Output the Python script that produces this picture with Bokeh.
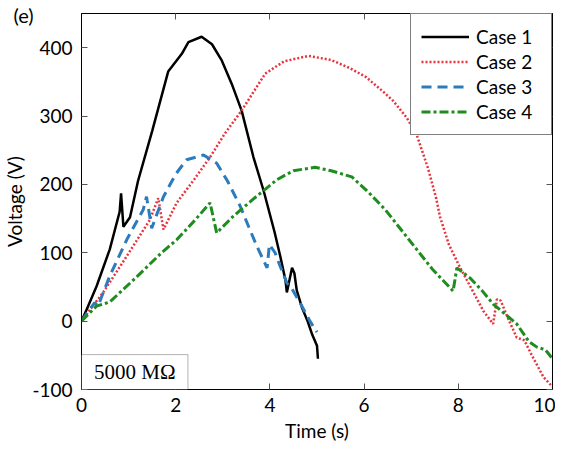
from bokeh.plotting import figure
from bokeh.models import (Range1d, LinearAxis, FixedTicker, Legend, LegendItem,
                          Label, BoxAnnotation, Title, CustomLabelingPolicy)
from bokeh.embed import file_html
from bokeh.resources import INLINE

# ---- data ----
case1_t = [0, 0.11, 0.32, 0.6, 0.81, 0.84, 0.89, 1.03, 1.2, 1.5, 1.84, 2.13, 2.27,
           2.55, 2.77, 2.98, 3.19, 3.4, 3.65, 3.87, 4.1, 4.22, 4.33, 4.36, 4.47,
           4.52, 4.57, 4.68, 4.8, 4.9, 5.0, 5.02]
case1_v = [0, 17, 51, 105, 160, 187, 138, 152, 205, 278, 365, 391, 408,
           416, 405, 381, 347, 308, 240, 190, 130, 95, 60, 42, 78,
           70, 45, 20, 0, -20, -36, -55]

case2_t = [0, 0.18, 0.46, 0.96, 1.45, 1.63, 1.74, 2.02, 2.4, 2.73, 3.05, 3.4, 3.9,
           4.3, 4.82, 5.3, 5.7, 6.04, 6.4, 6.62, 6.9, 7.11, 7.35, 7.53, 7.61,
           7.8, 8.04, 8.3, 8.53, 8.74, 8.82, 8.9, 9.05, 9.24, 9.4, 9.6, 9.81, 10.0]
case2_v = [0, 17, 42, 95, 148, 180, 134, 173, 208, 240, 275, 308, 362,
           380, 388, 382, 370, 357, 336, 322, 298, 274, 225, 180, 153,
           112, 78, 45, 15, -4, 32, 30, 5, -24, -28, -55, -82, -96]

case3_t = [0, 0.15, 0.28, 0.35, 0.6, 0.96, 1.31, 1.38, 1.49, 1.74, 2.0, 2.23, 2.59,
           2.87, 3.1, 3.37, 3.55, 3.72, 3.94, 3.99, 4.11, 4.22, 4.36, 4.47, 4.68,
           4.85, 5.0]
case3_v = [0, 15, 27, 22, 66, 119, 163, 182, 136, 182, 215, 236, 243,
           231, 205, 168, 138, 110, 78, 112, 100, 80, 56, 47, 22,
           0, -16]

case4_t = [0, 0.32, 0.6, 1.13, 1.7, 2.02, 2.4, 2.73, 2.87, 3.2, 3.62, 4.15, 4.5,
           4.96, 5.3, 5.74, 6.1, 6.45, 7.0, 7.45, 7.89, 7.97, 8.25, 8.5, 8.74,
           9.0, 9.24, 9.5, 9.67, 9.85, 10.0]
case4_v = [0, 22, 28, 62, 100, 119, 147, 173, 129, 152, 177, 207, 220,
           225, 220, 211, 188, 163, 115, 76, 44, 78, 63, 45, 25,
           10, -4, -30, -38, -42, -55]

x_ticks = [0, 2, 4, 6, 8, 10]
y_ticks = [-100, 0, 100, 200, 300, 400]
y_tick_labels = {-100: "-100"}
series_names = ["Case 1", "Case 2", "Case 3", "Case 4"]

FONT = "Lato"

p = figure(width=548, height=448, output_backend="svg", toolbar_location=None,
           x_range=Range1d(0, 10), y_range=Range1d(-100, 450),
           min_border_left=80, min_border_right=3, min_border_top=13,
           min_border_bottom=59)
p.frame_width = 471
p.frame_height = 376
p.background_fill_color = "white"
p.outline_line_color = "black"
p.outline_line_width = 1
p.grid.visible = False

hide_labels = CustomLabelingPolicy(code="for (const i of indices) { indices.unset(i) } return indices")

def style_axis(ax, labels=True):
    ax.axis_line_color = "black"
    ax.axis_line_width = 1
    ax.major_tick_in = 6
    ax.major_tick_out = 0
    ax.minor_tick_line_color = None
    ax.major_tick_line_color = "#555555"
    ax.major_label_text_font = FONT
    ax.major_label_text_font_size = "19px"
    ax.major_label_text_color = "black"
    ax.axis_label_text_font = FONT
    ax.axis_label_text_font_size = "19px"
    ax.axis_label_text_font_style = "normal"
    ax.axis_label_text_color = "black"
    if not labels:
        ax.major_label_text_font_size = "0px"
        ax.major_label_standoff = 0
        ax.major_label_policy = hide_labels

p.xaxis.ticker = FixedTicker(ticks=x_ticks)
p.yaxis.ticker = FixedTicker(ticks=y_ticks)
p.yaxis.major_label_overrides = y_tick_labels
p.xaxis.axis_label = "Time (s)"
p.yaxis.axis_label = "Voltage (V)"
style_axis(p.xaxis[0])
style_axis(p.yaxis[0])
p.xaxis.major_label_standoff = 8
p.yaxis.major_label_standoff = 9
p.xaxis.axis_label_standoff = 4
p.yaxis.axis_label_standoff = 3

top = LinearAxis(ticker=FixedTicker(ticks=x_ticks))
style_axis(top, labels=False)
right = LinearAxis(ticker=FixedTicker(ticks=y_ticks))
style_axis(right, labels=False)
p.add_layout(top, "above")
p.add_layout(right, "right")

r1 = p.line(case1_t, case1_v, line_color="black", line_width=2.5)
r2 = p.line(case2_t, case2_v, line_color="#e8333c", line_width=2.5, line_dash="2 2")
r3 = p.line(case3_t, case3_v, line_color="#2b7bbd", line_width=3, line_dash="10 6")
r4 = p.line(case4_t, case4_v, line_color="#1e8c1e", line_width=3, line_dash="9 3 3 3")

legend = Legend(items=[LegendItem(label=n, renderers=[r])
                       for n, r in zip(series_names, [r1, r2, r3, r4])],
                location="top_right")
legend.label_text_font = FONT
legend.label_text_font_size = "19px"
legend.label_text_color = "black"
legend.glyph_width = 48
legend.glyph_height = 25
legend.label_standoff = 7
legend.label_width = 65
legend.label_height = 25
legend.spacing = 0
legend.padding = 10
legend.margin = 0
legend.border_line_color = "black"
legend.border_line_width = 1
legend.background_fill_alpha = 1
p.add_layout(legend)

box = BoxAnnotation(left=0, right=2.26, bottom=-100, top=-49,
                    fill_color="white", fill_alpha=1,
                    line_color="black", line_width=1)
p.add_layout(box)
res_label = Label(x=1.13, y=-74.5, text="5000 MΩ", text_font="Liberation Serif",
                  text_font_size="21px", text_color="black",
                  text_align="center", text_baseline="middle")
p.add_layout(res_label)

tag = Title(text="\n(e)", align="left", vertical_align="top", offset=-68,
            standoff=-30, text_font=FONT, text_font_size="20px",
            text_line_height=0.55,
            text_font_style="normal", text_color="black")
p.add_layout(tag, "above")

open("out.html", "w").write(file_html(p, INLINE))
